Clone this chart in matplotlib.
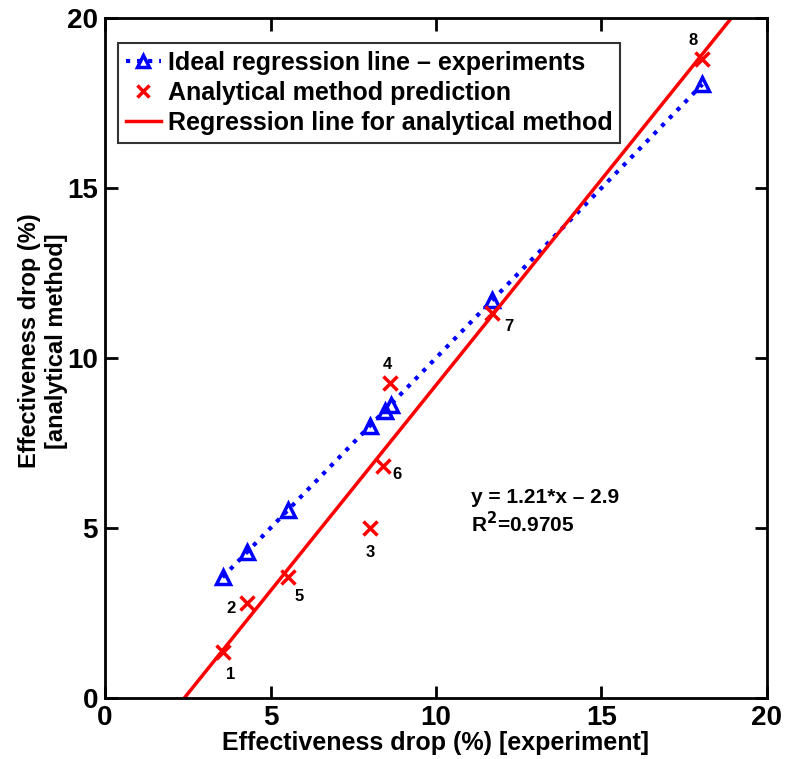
import matplotlib.pyplot as plt
import numpy as np

# experiment values (x) and analytical predictions (y), case numbers 1..8
case_no = ['1', '2', '3', '4', '5', '6', '7', '8']
experiment = np.array([3.55, 4.3, 8.0, 8.6, 5.53, 8.4, 11.7, 18.05])
analytical = np.array([1.35, 2.8, 5.0, 9.25, 3.55, 6.82, 11.32, 18.8])
ideal_x = np.array([3.55, 4.3, 5.53, 8.0, 8.45, 8.63, 11.7, 18.05])

slope = 1.21
intercept = -2.9
r2 = 0.9705

# label offsets in points (dx, dy) for the case numbers
label_offsets = [(6, -16), (-12, -4), (0, -18), (-2, 14), (8, -14), (10, -6), (12, -10), (-7, 13)]

plt.rcParams['font.family'] = ['Liberation Sans', 'DejaVu Sans']
plt.rcParams['font.weight'] = 'bold'

fig = plt.figure(figsize=(7.86, 7.59), dpi=100)
ax = fig.add_axes([0.1336, 0.0804, 0.8422, 0.8959])

ax.plot(ideal_x, ideal_x, ':', color='blue', lw=3, marker='^', ms=10,
        mfc='none', mec='blue', mew=2.5, label='Ideal regression line \u2013 experiments')
ax.plot(experiment, analytical, 'x', color='red', ms=10, mew=2.5,
        label='Analytical method prediction')
xl = np.array([0, 20])
ax.plot(xl, slope * xl + intercept, '-', color='red', lw=2.5,
        label='Regression line for analytical method')

for lab, xv, yv, off in zip(case_no, experiment, analytical, label_offsets):
    ax.annotate(lab, (xv, yv), xytext=off, textcoords='offset points',
                ha='center', va='center', fontsize=12, fontweight='bold')

ax.text(11.05, 5.9, 'y = %.2f*x \u2013 %.1f' % (slope, -intercept), fontsize=15,
        fontweight='bold', va='center')
ax.text(11.05, 5.12, 'R$^\\mathbf{2}$=%.4f' % r2, fontsize=15, fontweight='bold', va='center')

ax.set_xlim(0, 20)
ax.set_ylim(0, 20)
ax.set_xticks([0, 5, 10, 15, 20])
ax.set_yticks([0, 5, 10, 15, 20])
ax.tick_params(direction='in', length=9, width=2, labelsize=20, top=True, right=True, pad=5)
for s in ax.spines.values():
    s.set_linewidth(2)

ax.set_xlabel('Effectiveness drop (%) [experiment]', fontsize=18, fontweight='bold', labelpad=0)
ax.set_ylabel('Effectiveness drop (%)\n[analytical method]', fontsize=17, fontweight='bold')
ax.yaxis.set_label_coords(-0.056, 0.525)

leg = ax.legend(loc='upper left', bbox_to_anchor=(0.02, 0.963), fontsize=18, frameon=True,
                fancybox=False, edgecolor='black', handlelength=1.4, handletextpad=0.3,
                borderpad=0.3, labelspacing=0.25, borderaxespad=0, markerscale=0.8)
leg.get_frame().set_linewidth(1.5)
for t in leg.get_texts():
    t.set_fontweight('bold')

fig.savefig('out.png', dpi=100)
